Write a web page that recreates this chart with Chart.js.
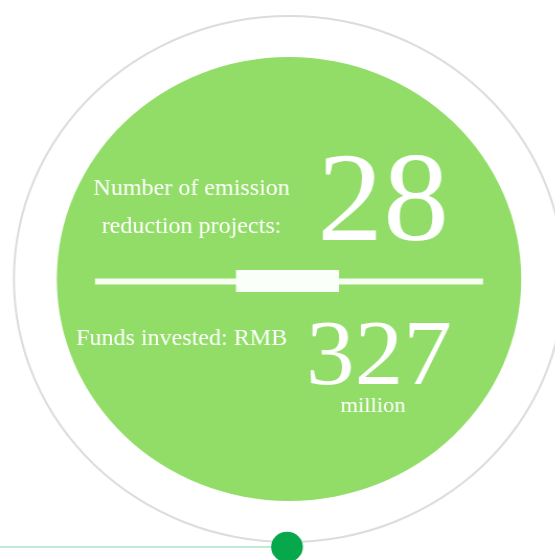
<!DOCTYPE html>
<html>
<head>
<meta charset="utf-8">
<script src="https://cdn.jsdelivr.net/npm/chart.js@4/dist/chart.umd.min.js"></script>
<style>
  html, body { margin: 0; padding: 0; background: #ffffff; }
  #wrap { width: 555px; height: 560px; overflow: hidden; position: relative; background: #ffffff; }
  #stretch { position: absolute; left: 0; top: 0; width: 560px; height: 560px; transform: scaleX(1.046); transform-origin: 0 0; }
</style>
</head>
<body>
<div id="wrap"><div id="stretch"><canvas id="c" width="560" height="560"></canvas></div></div>
<script>
// ---- data ----
const categories = ['Number of emission reduction projects:', 'Funds invested: RMB'];
const labelLines = [['Number of emission', 'reduction projects:'], ['Funds invested: RMB']];
const values = [28, 327];
const units = ['', 'million'];
// ring layers (outer to inner), thickness weights in px
const ringLayers = ['outline', 'gap', 'disk'];
const ringWeights = [2, 40, 222];

const S = 1.046; // horizontal stretch of the picture
const sx = x => x / S;

const GREEN = '#91dd67';
const WHITE = '#ffffff';

const decorPlugin = {
  id: 'decor',
  beforeDatasetsDraw(chart) {
    const ctx = chart.ctx;
    ctx.save();
    // thin line on the left bottom
    ctx.strokeStyle = '#c4e8d6';
    ctx.lineWidth = 2;
    ctx.beginPath();
    ctx.moveTo(0, 547);
    ctx.lineTo(sx(280), 547);
    ctx.stroke();
    ctx.restore();
  },
  afterDatasetsDraw(chart) {
    const ctx = chart.ctx;
    ctx.save();
    // divider
    ctx.fillStyle = '#f6fdf2';
    ctx.fillRect(sx(95), 278.5, sx(483) - sx(95), 6);
    ctx.fillStyle = '#fbfffa';
    ctx.fillRect(sx(236), 270, sx(339) - sx(236), 22);

    // texts
    ctx.fillStyle = WHITE;
    ctx.textBaseline = 'alphabetic';
    const serif = '"Liberation Serif", "Times New Roman", "DejaVu Serif", serif';

    ctx.font = '23px ' + serif;
    ctx.textAlign = 'center';
    ctx.fillText(labelLines[0][0], sx(191.6), 195);
    ctx.fillText(labelLines[0][1], sx(191.5), 233);

    ctx.font = '126px ' + serif;
    ctx.fillText(String(values[0]), sx(383), 240);

    ctx.font = '23px ' + serif;
    ctx.textAlign = 'left';
    ctx.fillText(labelLines[1][0], sx(76), 345);

    ctx.textAlign = 'center';
    ctx.font = '93px ' + serif;
    ctx.fillText(String(values[1]), sx(379), 384);

    ctx.font = '21.5px ' + serif;
    ctx.fillText(units[1], sx(373), 412);

    // dot
    ctx.fillStyle = '#07a84c';
    ctx.beginPath();
    ctx.arc(sx(287), 547, 15.2, 0, Math.PI * 2);
    ctx.fill();
    ctx.restore();
  }
};

new Chart(document.getElementById('c'), {
  type: 'doughnut',
  data: {
    labels: ['value'],
    datasets: ringLayers.map((name, i) => ({
      label: name,
      data: [1],
      weight: ringWeights[i],
      backgroundColor: [name === 'outline' ? '#dcdcdc' : (name === 'gap' ? 'rgba(255,255,255,0)' : GREEN)],
      borderWidth: 0,
      offset: 0,
      hoverOffset: 0
    }))
  },
  options: {
    responsive: false,
    animation: false,
    devicePixelRatio: 1,
    events: [],
    cutout: 0,
    radius: 264,
    layout: { padding: { left: 0, right: 560 - 2 * sx(289), top: 0, bottom: 2 } },
    plugins: { legend: { display: false }, tooltip: { enabled: false } }
  },
  plugins: [decorPlugin]
});
</script>
</body>
</html>
